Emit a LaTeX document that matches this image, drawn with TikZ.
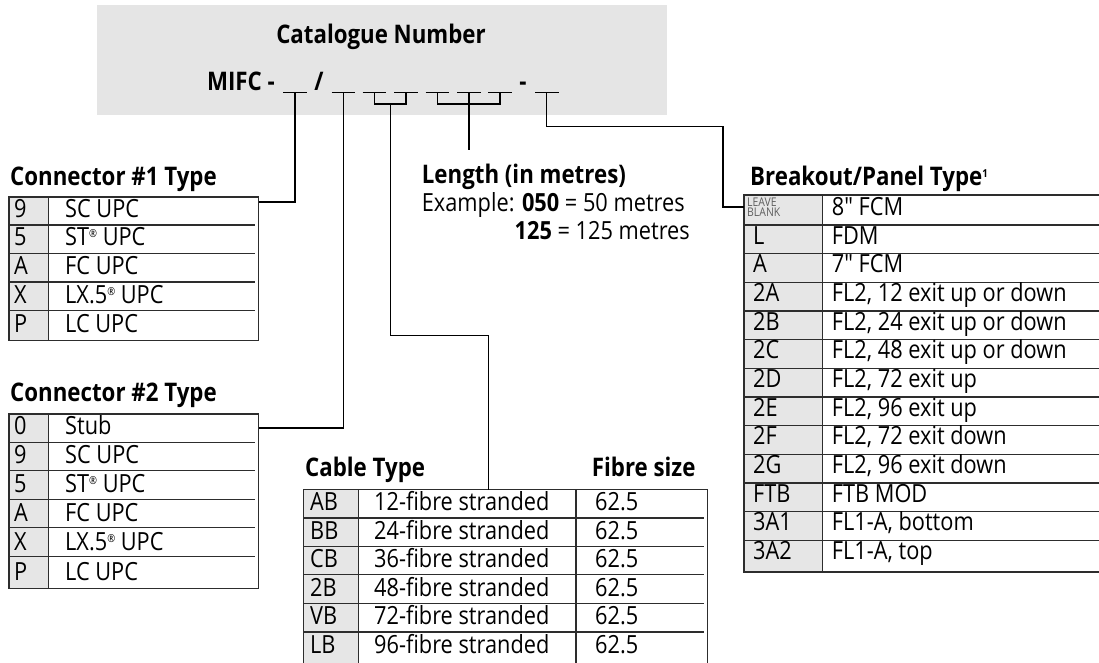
\documentclass[tikz,border=0pt]{standalone}
\usepackage{fontspec}
\setmainfont[FakeStretch=0.87, Ligatures=TeXOff]{Open Sans}
\definecolor{HeadGray}{RGB}{229,229,229}
\definecolor{KeyGray}{RGB}{230,230,230}
\definecolor{RuleGray}{RGB}{45,45,45}
\definecolor{NoteGray}{RGB}{95,95,95}
\usetikzlibrary{positioning, calc}
\newcommand{\bodyfont}{\fontsize{25}{30}\selectfont}
\newcommand{\headfont}{\fontsize{25.6}{30}\selectfont\bfseries}
\newcommand{\regmark}{\raisebox{8pt}{\fontsize{11}{11}\selectfont ®}}

\begin{document}
\begin{tikzpicture}[x=1pt, y=-1pt,
    every node/.style={inner sep=0pt, font=\bodyfont},
    entry/.style={anchor=base west},
    head/.style={anchor=base west, font=\headfont},
    note/.style={anchor=base west, font=\fontsize{12}{12}\selectfont, text=NoteGray},
    tableframe/.style={draw=RuleGray, line width=1.3pt},
    rowline/.style={draw=RuleGray, line width=1.2pt},
    link/.style={draw=black, line width=1.2pt},
    blank/.style={draw=black, line width=1pt}
]
\useasboundingbox (0,0) rectangle (1099,662);

% catalogue number
\fill[HeadGray] (97,5) rectangle (667,115);
\node[head, anchor=base] (title) at (381,43.5) {Catalogue Number};
\node[head, anchor=base east] (prefix) at (275,90) {MIFC -};
\node[head, anchor=base] (slash) at (319,90) {/};
\node[head, anchor=base] (dash) at (523,90) {-};
\foreach \x [count=\i] in {283.3,331.7,362.7,394.3,425.7,457.3,488.3,535}{
    \draw[blank] (\x,92.3) -- ++(23.5,0);
    \coordinate (bl\i) at (\x+11.75,92.3);
}
\draw[link] (bl3) -- ++(0,11.7) -| (bl4);
\draw[link] (bl5) -- ++(0,11.7) -| (bl7);
\coordinate (cabstem) at ($(bl3)!0.5!(bl4)+(0,11.7)$);

% connector #1
\node[head] (c1head) at (10,185) {Connector \#1 Type};
\fill[KeyGray] (9,197) rectangle (48.3,340.5);
\foreach \y in {225,253.3,282,310.7} \draw[rowline] (9,\y) -- (254.5,\y);
\draw[tableframe] (9,197) rectangle (258.5,340.5) (48.3,197) -- (48.3,340.5);
\foreach \k/\d [count=\i] in {9/SC UPC, 5/ST\regmark{} UPC, A/FC UPC, X/LX.5\regmark{} UPC, P/LC UPC}{
    \node[entry] (c1k\i) at (14,217+28.9*\i-28.9) {\k};
    \node[entry] (c1d\i) at (65,217+28.9*\i-28.9) {\d};
}
\coordinate (c1in) at (258.5,202);

% connector #2
\node[head] (c2head) at (10,401.7) {Connector \#2 Type};
\fill[KeyGray] (9,414) rectangle (48.3,588.3);
\foreach \y in {442.3,470.7,499.2,527.7,556.5} \draw[rowline] (9,\y) -- (254.5,\y);
\draw[tableframe] (9,414) rectangle (258.5,588.3) (48.3,414) -- (48.3,588.3);
\foreach \k/\d [count=\i] in {0/Stub, 9/SC UPC, 5/ST\regmark{} UPC, A/FC UPC, X/LX.5\regmark{} UPC, P/LC UPC}{
    \node[entry] (c2k\i) at (14,434.5+29.1*\i-29.1) {\k};
    \node[entry] (c2d\i) at (65,434.5+29.1*\i-29.1) {\d};
}
\coordinate (c2in) at (258.5,428);

% length
\node[head] (lenhead) at (421.7,183.3) {Length (in metres)};
\node[entry] (lenex1) at (421.7,211) {Example: \textbf{050} = 50 metres};
\node[entry] (lenex2) at (514.5,239.3) {\textbf{125} = 125 metres};
\coordinate (lenend) at ($(bl6)+(0,57.7)$);

% cable type
\node[head] (cabhead) at (305,476) {Cable Type};
\node[head] (sizehead) at (591.7,476) {Fibre size};
\fill[KeyGray] (303.3,489.5) rectangle (358.3,665);
\foreach \y in {518,546.5,574.8,603.3,632} \draw[rowline] (303.3,\y) -- (704,\y);
\draw[tableframe] (303.3,665) -- (303.3,489.5) -- (707.5,489.5) -- (707.5,665)
    (358.3,489.5) -- (358.3,665) (576,489.5) -- (576,665);
\foreach \k/\n [count=\i] in {AB/12, BB/24, CB/36, 2B/48, VB/72, LB/96}{
    \node[entry] (cabk\i) at (310,510.5+28.5*\i-28.5) {\k};
    \node[entry] (cabd\i) at (374,510.5+28.5*\i-28.5) {\n-fibre stranded};
    \node[entry] (cabs\i) at (595,510.5+28.5*\i-28.5) {62.5};
}
\coordinate (cabin) at (488.3,489.5);

% breakout / panel type
\node[head] (bkhead) at (750,185) {Breakout/Panel Type\raisebox{8pt}{\fontsize{11}{11}\selectfont 1}};
\fill[KeyGray] (744,195) rectangle (822.7,572);
\foreach \i in {0,...,11} \draw[rowline] (744,225+28.67*\i) -- (1099,225+28.67*\i);
\draw[tableframe] (744,195) rectangle (1102,572) (822.7,195) -- (822.7,572);
\node[note] (leave) at (747,206) {LEAVE};
\node[note] (blankn) at (747,216.5) {BLANK};
\node[entry] (bkd1) at (831.7,215.5) {8" FCM};
\foreach \k/\d [count=\i from 2] in {L/FDM, A/7" FCM, 2A/{FL2, 12 exit up or down}, 2B/{FL2, 24 exit up or down},
    2C/{FL2, 48 exit up or down}, 2D/{FL2, 72 exit up}, 2E/{FL2, 96 exit up}, 2F/{FL2, 72 exit down},
    2G/{FL2, 96 exit down}, FTB/FTB MOD, 3A1/{FL1-A, bottom}, 3A2/{FL1-A, top}}{
    \node[entry] (bkk\i) at (753,215.5+28.65*\i-28.65) {\k};
    \node[entry] (bkd\i) at (831.7,215.5+28.65*\i-28.65) {\d};
}
\coordinate (bkin) at (744,207);

% connectors
\draw[link] (bl1) |- (c1in);
\draw[link] (bl2) |- (c2in);
\draw[link] (cabstem) -- ++(0,231.7) -| (cabin);
\draw[link] (bl6) -- (lenend);
\draw[link] (bl8) -- ++(0,34.4) -| ($(bkin)+(-21,0)$) -- (bkin);
\end{tikzpicture}
\end{document}
